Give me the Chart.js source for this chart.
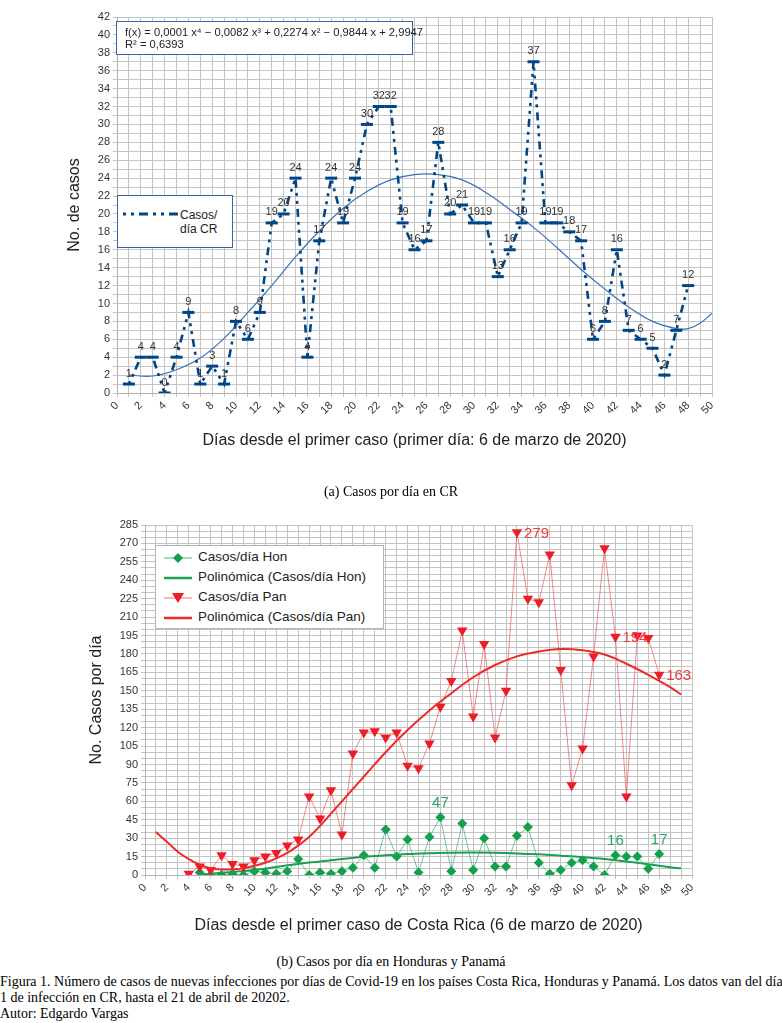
<!DOCTYPE html>
<html lang="es">
<head>
<meta charset="UTF-8">
<title>Casos por día - CR, Honduras y Panamá</title>
<script src="https://cdn.jsdelivr.net/npm/chart.js"></script>
<style>
    body {
        margin: 0;
        background: #fff;
        width: 782px;
        height: 1023px;
        position: relative;
        overflow: hidden;
        font-family: 'Liberation Sans', Arial, sans-serif;
        color: #222;
    }
    canvas { position: absolute; left: 0; }
    #graficoCR { top: 0; }
    #graficoHP { top: 470px; }
    .caja {
        position: absolute;
        background: #fff;
        box-sizing: border-box;
    }
    .ecuacion {
        left: 116px; top: 21px; width: 297px; height: 34px;
        border: 1px solid #3465a4;
        font-size: 11.2px; line-height: 12px;
        padding: 4px 0 0 8px;
        white-space: nowrap;
    }
    .leyendaCR {
        left: 117px; top: 195px; width: 116px; height: 53px;
        border: 1px solid #3465a4;
        font-size: 12px; line-height: 14px;
    }
    .leyendaCR svg { position: absolute; left: 5px; top: 14px; }
    .leyendaCR span { position: absolute; left: 62px; top: 12px; }
    .leyendaHP {
        left: 155px; top: 545px; width: 229px; height: 84px;
        border: 1px solid #b3b3b3;
        font-size: 13.5px;
    }
    .fila { position: absolute; left: 8px; height: 20px; white-space: nowrap; }
    .fila svg { position: absolute; left: 0; top: 2px; }
    .fila span { position: absolute; left: 34px; top: 1px; }
    .pie {
        position: absolute;
        font-family: 'Liberation Serif', 'Times New Roman', serif;
        font-size: 14px;
        color: #000;
        white-space: nowrap;
    }
</style>
</head>
<body>

<canvas id="graficoCR" width="782" height="470"></canvas>
<canvas id="graficoHP" width="782" height="480"></canvas>

<!-- cuadro de la ecuación de la línea de tendencia -->
<div class="caja ecuacion">f(x) = 0,0001 x⁴ − 0,0082 x³ + 0,2274 x² − 0,9844 x + 2,9947<br>R² = 0,6393</div>

<!-- leyenda del gráfico (a) -->
<div class="caja leyendaCR">
    <svg width="56" height="8"><line x1="0" y1="4" x2="56" y2="4" stroke="#004586" stroke-width="3" stroke-dasharray="3 5 3 5 9 5"/></svg>
    <span>Casos/<br>día CR</span>
</div>

<!-- leyenda del gráfico (b) -->
<div class="caja leyendaHP">
    <div class="fila" style="top:2px">
        <svg width="28" height="16"><line x1="0" y1="8" x2="28" y2="8" stroke="#7fd0a0" stroke-width="1.5"/><polygon points="14,3 19,8 14,13 9,8" fill="#14a04b"/></svg>
        <span>Casos/día Hon</span>
    </div>
    <div class="fila" style="top:22px">
        <svg width="28" height="16"><line x1="0" y1="8" x2="28" y2="8" stroke="#1aa050" stroke-width="2.5"/></svg>
        <span>Polinómica (Casos/día Hon)</span>
    </div>
    <div class="fila" style="top:42px">
        <svg width="28" height="16"><line x1="0" y1="8" x2="28" y2="8" stroke="#f6a0a0" stroke-width="1.5"/><polygon points="8,3 20,3 14,13" fill="#ee1c25"/></svg>
        <span>Casos/día Pan</span>
    </div>
    <div class="fila" style="top:62px">
        <svg width="28" height="16"><line x1="0" y1="8" x2="28" y2="8" stroke="#ee2a2a" stroke-width="2.5"/></svg>
        <span>Polinómica (Casos/día Pan)</span>
    </div>
</div>

<div class="pie" style="left:0; width:782px; text-align:center; top:484px;">(a) Casos por día en CR</div>
<div class="pie" style="left:0; width:782px; text-align:center; top:954px;">(b) Casos por día en Honduras y Panamá</div>
<div class="pie" style="left:0; top:974px;">Figura 1. Número de casos de nuevas infecciones por días de Covid-19 en los países Costa Rica, Honduras y Panamá. Los datos van del día</div>
<div class="pie" style="left:0; top:990px;">1 de infección en CR, hasta el 21 de abril de 20202.</div>
<div class="pie" style="left:0; top:1006px;">Autor: Edgardo Vargas</div>

<script>
    // ---- datos (a): Costa Rica ----
    const diasCR = [1, 2, 3, 4, 5, 6, 7, 8, 9, 10, 11, 12, 13, 14, 15, 16, 17, 18, 19, 20, 21, 22, 23, 24,
                    25, 26, 27, 28, 29, 30, 31, 32, 33, 34, 35, 36, 37, 38, 39, 40, 41, 42, 43, 44, 45, 46, 47, 48];
    const casosCR = [1, 4, 4, 0, 4, 9, 1, 3, 1, 8, 6, 9, 19, 20, 24, 4, 17, 24, 19, 24, 30, 32, 32, 19,
                     16, 17, 28, 20, 21, 19, 19, 13, 16, 19, 37, 19, 19, 18, 17, 6, 8, 16, 7, 6, 5, 2, 7, 12];
    // línea de tendencia polinómica
    const tendCRdias = [1, 3, 5, 7, 9, 11, 13, 15, 17, 19, 21, 23, 25, 27, 29, 31, 33, 35, 37, 39, 41, 43, 45, 47, 48, 49, 50];
    const tendCRvalores = [2.0, 1.9, 2.6, 3.9, 6.1, 9.0, 12.0, 15.2, 18.1, 20.6, 22.5, 23.8, 24.4, 24.4, 23.8, 22.4,
                           20.5, 18.5, 16.2, 13.8, 11.6, 9.6, 8.0, 7.2, 7.2, 7.8, 8.9];

    // ---- datos (b): Honduras y Panamá ----
    const diasHon = [5, 6, 7, 8, 9, 10, 11, 12, 13, 14, 15, 16, 17, 18, 19, 20, 21, 22, 23, 24, 25, 26,
                     27, 28, 29, 30, 31, 32, 33, 34, 35, 36, 37, 38, 39, 40, 41, 42, 43, 44, 45, 46, 47];
    const casosHon = [2, 0, 0, 1, 0, 3, 2, 1, 3, 13, 0, 2, 1, 3, 6, 16, 6, 37, 15, 29, 2, 31,
                      47, 3, 42, 4, 30, 7, 7, 32, 39, 10, 1, 4, 10, 12, 7, 0, 16, 15, 15, 5, 17];
    const etiquetasHon = [27, 43, 47];
    const diasPan = [4, 5, 6, 7, 8, 9, 10, 11, 12, 13, 14, 15, 16, 17, 18, 19, 20, 21, 22, 23, 24, 25,
                     26, 27, 28, 29, 30, 31, 32, 33, 34, 35, 36, 37, 38, 39, 40, 41, 42, 43, 44, 45, 46, 47];
    const casosPan = [1, 7, 4, 16, 9, 7, 12, 15, 18, 24, 29, 64, 46, 69, 33, 99, 116, 117, 112, 116, 89, 87,
                      107, 137, 158, 199, 129, 188, 112, 150, 279, 225, 222, 261, 167, 73, 103, 178, 266, 194, 64, 195, 193, 163];
    const etiquetasPan = [34, 43, 47];
    const tendHonDias = [5, 6, 8, 10, 12, 14, 16, 18, 20, 22, 24, 26, 28, 30, 32, 34, 36, 38, 40, 42, 44, 46, 48, 49];
    const tendHonValores = [0.3, 1, 2.5, 4, 6.5, 9, 11, 13, 14.8, 16, 17, 17.8, 18.2, 18.3, 18.1, 17.6, 16.8, 15.7,
                            14.5, 13, 11, 8.8, 6.4, 5.4];
    const tendPanDias = [1, 2, 3, 4, 5, 6, 7, 8, 9, 10, 11, 12, 13, 14, 15, 16, 17, 18, 19, 20, 22, 24, 26, 28,
                         30, 32, 34, 36, 38, 40, 42, 44, 46, 48, 49];
    const tendPanValores = [35, 27, 19, 13, 8.5, 5.5, 4.5, 4.6, 5.4, 7.5, 10, 13.5, 18, 24, 31, 40, 50, 60, 70, 80,
                            100, 118, 134, 148, 161, 171, 178, 182, 184, 183, 179.5, 172, 163, 153, 147];

    const pares = (xs, ys) => xs.map((x, i) => ({ x: x, y: ys[i] }));

    // etiquetas de datos encima o a la derecha de los puntos
    const etiquetas = {
        id: 'etiquetas',
        afterDatasetsDraw(chart) {
            const ctx = chart.ctx;
            chart.data.datasets.forEach((ds, i) => {
                const et = ds.etiquetas;
                if (!et) return;
                const meta = chart.getDatasetMeta(i);
                ctx.save();
                ctx.font = et.fuente;
                ctx.fillStyle = et.color;
                meta.data.forEach((pt, j) => {
                    const d = ds.data[j];
                    if (et.dias && !et.dias.includes(d.x)) return;
                    if (et.lado === 'derecha') {
                        ctx.textAlign = 'left';
                        ctx.textBaseline = 'middle';
                        ctx.fillText(d.y, pt.x + 7, pt.y + 1);
                    } else {
                        ctx.textAlign = 'center';
                        ctx.textBaseline = 'bottom';
                        ctx.fillText(d.y, pt.x, pt.y - et.sep);
                    }
                });
                ctx.restore();
            });
        }
    };

    const fuenteEjes = { family: "'Liberation Sans', Arial, sans-serif", size: 11 };
    const fuenteTitulo = { family: "'Liberation Sans', Arial, sans-serif", size: 16 };

    function ejeX(titulo, alto) {
        return {
            type: 'linear', min: 0, max: 50,
            afterFit: s => { s.height = alto; },
            ticks: {
                stepSize: 1, maxTicksLimit: 1000, autoSkip: false,
                maxRotation: 45, minRotation: 45,
                color: '#333', font: fuenteEjes, padding: 2,
                callback: v => (v % 2 === 0 ? v : '')
            },
            grid: { color: '#c4c4c4', tickLength: 4 },
            border: { color: '#b3b3b3' },
            title: { display: true, text: titulo, color: '#222', font: fuenteTitulo, padding: 0 }
        };
    }

    function ejeY(titulo, max, paso, cada, ancho) {
        return {
            min: 0, max: max,
            afterFit: s => { s.width = ancho; },
            ticks: {
                stepSize: paso, maxTicksLimit: 1000, autoSkip: false,
                color: '#333', font: fuenteEjes, padding: 3,
                callback: v => (v % cada === 0 ? v : '')
            },
            grid: { color: '#c4c4c4', tickLength: 4 },
            border: { color: '#b3b3b3' },
            title: { display: true, text: titulo, color: '#222', font: fuenteTitulo, padding: 0 }
        };
    }

    // ---- gráfico (a) ----
    new Chart(document.getElementById('graficoCR').getContext('2d'), {
        type: 'scatter',
        data: {
            datasets: [{
                label: 'Casos/día CR',
                data: pares(diasCR, casosCR),
                showLine: true,
                borderColor: '#004586',
                borderWidth: 2.6,
                borderDash: [3, 5, 3, 5, 8, 5],
                pointStyle: 'line',
                pointRadius: 6,
                pointBorderWidth: 3,
                pointBorderColor: '#004586',
                pointBackgroundColor: '#004586',
                etiquetas: { fuente: "11px 'Liberation Sans', Arial, sans-serif", color: '#333', sep: 5 }
            }, {
                label: 'Polinómica',
                data: pares(tendCRdias, tendCRvalores),
                showLine: true,
                borderColor: '#3a72b4',
                borderWidth: 1.2,
                pointRadius: 0,
                tension: 0.4
            }]
        },
        options: {
            responsive: false,
            animation: false,
            layout: { padding: { left: 65, right: 70, top: 17, bottom: 20 } },
            plugins: { legend: { display: false }, tooltip: { enabled: false } },
            scales: {
                x: ejeX('Días desde el primer caso (primer día: 6 de marzo de 2020)', 57),
                y: ejeY('No. de casos', 42, 1, 2, 52)
            }
        },
        plugins: [etiquetas]
    });

    // ---- gráfico (b) ----
    new Chart(document.getElementById('graficoHP').getContext('2d'), {
        type: 'scatter',
        data: {
            datasets: [{
                label: 'Casos/día Hon',
                data: pares(diasHon, casosHon),
                showLine: true,
                borderColor: 'rgba(26,160,80,0.6)',
                borderWidth: 1,
                pointStyle: 'rectRot',
                pointRadius: 5,
                pointBorderWidth: 0,
                pointBackgroundColor: '#14a04b',
                order: 3,
                etiquetas: { fuente: "15px 'Liberation Sans', Arial, sans-serif", color: '#2aa860', sep: 7, dias: etiquetasHon }
            }, {
                label: 'Polinómica (Casos/día Hon)',
                data: pares(tendHonDias, tendHonValores),
                showLine: true,
                borderColor: '#1aa050',
                borderWidth: 2,
                pointRadius: 0,
                tension: 0.4,
                order: 2
            }, {
                label: 'Casos/día Pan',
                data: pares(diasPan, casosPan),
                showLine: true,
                borderColor: 'rgba(240,60,60,0.6)',
                borderWidth: 1,
                pointStyle: 'triangle',
                rotation: 180,
                pointRadius: 6,
                pointBorderWidth: 0,
                pointBackgroundColor: '#ee1c25',
                order: 1,
                etiquetas: { fuente: "15px 'Liberation Sans', Arial, sans-serif", color: '#ee3b3b', lado: 'derecha', dias: etiquetasPan }
            }, {
                label: 'Polinómica (Casos/día Pan)',
                data: pares(tendPanDias, tendPanValores),
                showLine: true,
                borderColor: '#ee2a2a',
                borderWidth: 2,
                pointRadius: 0,
                tension: 0.4,
                order: 0
            }]
        },
        options: {
            responsive: false,
            animation: false,
            layout: { padding: { left: 87, right: 90, top: 55, bottom: 15 } },
            plugins: { legend: { display: false }, tooltip: { enabled: false } },
            scales: {
                x: ejeX('Días desde el primer caso de Costa Rica (6 de marzo de 2020)', 60),
                y: ejeY('No. Casos por día', 285, 5, 15, 58)
            }
        },
        plugins: [etiquetas]
    });
</script>

</body>
</html>
